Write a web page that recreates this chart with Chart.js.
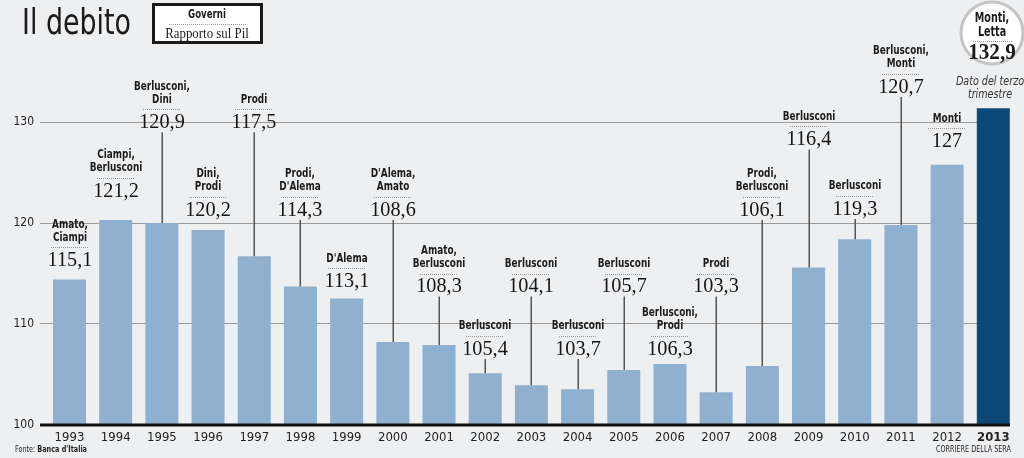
<!DOCTYPE html>
<html><head><meta charset="utf-8">
<script src="https://cdn.jsdelivr.net/npm/chart.js@4"></script>
<style>
html,body{margin:0;padding:0;background:#eeeff1;}
canvas{display:block}
</style></head><body>
<canvas id="c" width="1024" height="458"></canvas>
<script>
// ---- data ----
const years = ['1993','1994','1995','1996','1997','1998','1999','2000','2001','2002','2003','2004','2005','2006','2007','2008','2009','2010','2011','2012','2013'];
const debt = [114.4,120.3,120.0,119.3,116.7,113.7,112.5,108.2,107.9,105.1,103.9,103.5,105.4,106.0,103.2,105.8,115.6,118.4,119.8,125.8,131.4];
const printedValues = ['115,1','121,2','120,9','120,2','117,5','114,3','113,1','108,6','108,3','105,4','104,1','103,7','105,7','106,3','103,3','106,1','116,4','119,3','120,7','127','132,9'];
const governments = [
  ['Amato,','Ciampi'],['Ciampi,','Berlusconi'],['Berlusconi,','Dini'],['Dini,','Prodi'],['Prodi'],
  ['Prodi,',"D'Alema"],["D'Alema"],["D'Alema,",'Amato'],['Amato,','Berlusconi'],['Berlusconi'],
  ['Berlusconi'],['Berlusconi'],['Berlusconi'],['Berlusconi,','Prodi'],['Prodi'],
  ['Prodi,','Berlusconi'],['Berlusconi'],['Berlusconi'],['Berlusconi,','Monti'],['Monti'],['Monti,','Letta']
];
const yTicks = [100,110,120,130];
// label anchor (axis units) and leader flags – layout helpers
const labelLevel = [116.4,123.3,130.1,121.4,130.1,121.4,114.3,121.4,113.8,107.6,113.8,107.6,113.8,107.6,113.8,121.4,128.4,121.5,133.6,128.2];
const hasLeader = [false,false,true,false,true,true,false,true,true,true,true,true,true,false,true,true,true,true,true,false];

const NARROW = '"DejaVu Sans Condensed","Liberation Sans Narrow",sans-serif';
const SERIF = '"Liberation Serif","Times New Roman",serif';
const LIGHT = '#8fb1cf', DARK = '#0c4979', BG = '#eeeff1';

function dotted(ctx, x1, x2, y, col){
  ctx.fillStyle = col || '#999';
  for(let x = Math.round(x1); x < x2; x += 2) ctx.fillRect(x, Math.round(y), 1, 1);
}
// draw text squeezed horizontally around its anchor
function txt(ctx, s, x, y, font, sx, align, color){
  ctx.save();
  ctx.font = font; ctx.textAlign = align || 'center'; ctx.textBaseline = 'middle';
  ctx.fillStyle = color || '#1b1b1b';
  ctx.translate(x, y); ctx.scale(sx, 1);
  ctx.fillText(s, 0, 0);
  const w = ctx.measureText(s).width * sx;
  ctx.restore();
  return w;
}

const decor = {
  id:'decor',
  beforeDraw(chart){
    const ctx = chart.ctx;
    ctx.save(); ctx.fillStyle = BG; ctx.fillRect(0,0,chart.width,chart.height); ctx.restore();
  },
  afterDatasetsDraw(chart){
    const ctx = chart.ctx, xs = chart.scales.x, ys = chart.scales.y, ca = chart.chartArea;
    ctx.save();
    const by = ys.getPixelForValue(100);
    ctx.fillStyle = '#111';
    ctx.fillRect(ca.left, Math.round(by) - 1.5, ca.right - ca.left, 3);
    for(let i = 0; i < labelLevel.length; i++){
      const cx = Math.round(xs.getPixelForValue(i));
      const V = ys.getPixelForValue(labelLevel[i]);
      if(hasLeader[i]){
        ctx.strokeStyle = '#555'; ctx.lineWidth = 1.5;
        ctx.beginPath(); ctx.moveTo(cx + 0.25, V + 11); ctx.lineTo(cx + 0.25, ys.getPixelForValue(debt[i])); ctx.stroke();
      }
      txt(ctx, printedValues[i], cx, V + 1, '22px ' + SERIF, 0.92, 'center', '#141414');
      dotted(ctx, cx - 19, cx + 19, V - 12);
      const names = governments[i];
      for(let k = 0; k < names.length; k++){
        txt(ctx, names[k], cx, V - 22 - (names.length - 1 - k) * 13, 'bold 13px ' + NARROW, 0.76);
      }
    }
    ctx.restore();
  },
  afterDraw(chart){
    const ctx = chart.ctx, xs = chart.scales.x;
    ctx.save();
    // title
    txt(ctx, 'Il debito', 22, 25, '36px ' + NARROW, 0.83, 'left', '#1a1a1a');
    // legend box
    ctx.fillStyle = '#fff'; ctx.fillRect(153, 4, 109, 39);
    ctx.strokeStyle = '#1a1a1a'; ctx.lineWidth = 3; ctx.strokeRect(153.5, 4.5, 108, 38);
    txt(ctx, 'Governi', 207, 15, 'bold 12px ' + NARROW, 0.8);
    dotted(ctx, 169, 246, 24);
    txt(ctx, 'Rapporto sul Pil', 207, 34, '14px ' + SERIF, 0.92);
    // 2013 circle
    const last = years.length - 1;
    const cx = Math.round(xs.getPixelForValue(last)) - 1;
    ctx.beginPath(); ctx.arc(cx, 33, 31, 0, Math.PI * 2);
    ctx.fillStyle = '#fff'; ctx.fill();
    ctx.strokeStyle = '#c4c4c4'; ctx.lineWidth = 3; ctx.stroke();
    txt(ctx, governments[last][0], cx, 18, 'bold 14px ' + NARROW, 0.76);
    txt(ctx, governments[last][1], cx, 32, 'bold 14px ' + NARROW, 0.76);
    dotted(ctx, cx - 19, cx + 20, 41);
    txt(ctx, printedValues[last], cx, 53, 'bold 23px ' + SERIF, 0.92);
    txt(ctx, 'Dato del terzo', cx - 2, 82, 'italic 13px ' + NARROW, 0.82, 'center', '#333');
    txt(ctx, 'trimestre', cx - 2, 95, 'italic 13px ' + NARROW, 0.82, 'center', '#333');
    // footer
    const w = txt(ctx, 'Fonte: ', 15, 450, '9px ' + NARROW, 0.8, 'left', '#222');
    txt(ctx, "Banca d'Italia", 15 + w, 450, 'bold 9px ' + NARROW, 0.8, 'left', '#222');
    txt(ctx, 'CORRIERE DELLA SERA', 1011, 450, '9px ' + NARROW, 0.8, 'right', '#222');
    ctx.restore();
  }
};

new Chart(document.getElementById('c'), {
  type: 'bar',
  data: {
    datasets: [{
      data: debt.map((v, i) => ({x: i, y: v})),
      backgroundColor: debt.map((v, i) => i === debt.length - 1 ? DARK : LIGHT),
      borderWidth: 0,
      categoryPercentage: 1,
      barPercentage: 0.715
    }]
  },
  options: {
    responsive: false, animation: false, devicePixelRatio: 1,
    layout: { padding: { left: 0, right: 14, top: 1.5, bottom: 0 } },
    plugins: { legend: { display: false }, tooltip: { enabled: false }, title: { display: false } },
    scales: {
      x: {
        type: 'linear', offset: false, min: -0.6387, max: 20.3613,
        afterBuildTicks: s => { s.ticks = years.map((y, i) => ({ value: i })); },
        afterFit: s => { s.height = 33.5; s.paddingLeft = 0; s.paddingRight = 0; },
        grid: { display: false, drawTicks: false, offset: false }, border: { display: false },
        ticks: {
          padding: 5, color: '#222', maxRotation: 0, autoSkip: false,
          callback: v => years[v],
          font: c => ({ family: NARROW, size: 13, weight: (c.index === years.length - 1) ? 'bold' : 'normal' })
        }
      },
      y: {
        min: 100, max: 142,
        afterBuildTicks: s => { s.ticks = yTicks.map(v => ({ value: v })); },
        afterFit: s => { s.width = 40; s.paddingTop = 0; s.paddingBottom = 0; },
        grid: { color: '#9a9a9a', lineWidth: 1, drawTicks: false }, border: { display: false },
        ticks: { padding: 6, color: '#222', font: { family: NARROW, size: 12 }, callback: v => String(v) }
      }
    }
  },
  plugins: [decor]
});
</script>
</body></html>
